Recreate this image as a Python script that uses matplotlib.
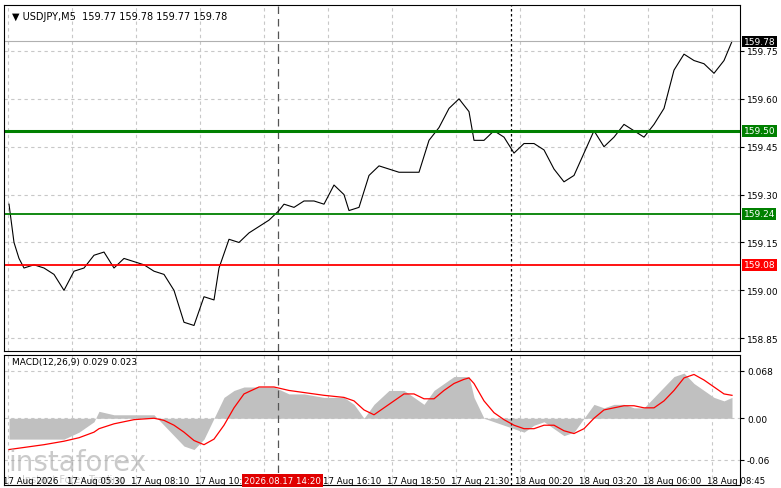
import matplotlib
matplotlib.use("Agg")
import matplotlib.pyplot as plt
import numpy as np

px = [5,10,15,20,30,40,50,60,70,80,90,100,110,120,130,140,150,160,170,180,190,200,210,215,225,235,245,255,265,275,280,290,300,310,320,330,340,345,355,365,375,385,395,405,415,425,435,445,455,465,470,480,490,500,510,520,530,540,550,560,570,580,590,600,610,620,630,640,650,660,670,680,690,700,710,720,728]
price = [159.27,159.15,159.10,159.07,159.08,159.07,159.05,159.00,159.06,159.07,159.11,159.12,159.07,159.10,159.09,159.08,159.06,159.05,159.00,158.90,158.89,158.98,158.97,159.07,159.16,159.15,159.18,159.20,159.22,159.25,159.27,159.26,159.28,159.28,159.27,159.33,159.30,159.25,159.26,159.36,159.39,159.38,159.37,159.37,159.37,159.47,159.51,159.57,159.60,159.56,159.47,159.47,159.50,159.48,159.43,159.46,159.46,159.44,159.38,159.34,159.36,159.43,159.50,159.45,159.48,159.52,159.50,159.48,159.52,159.57,159.69,159.74,159.72,159.71,159.68,159.72,159.78]

mx = [5,20,40,60,75,90,95,110,130,150,160,170,180,190,200,210,220,230,240,255,270,285,300,320,340,350,360,370,385,400,410,420,430,440,450,460,465,470,480,490,500,510,520,530,540,550,560,570,580,590,600,610,620,630,640,650,660,670,680,690,700,710,720,728]
hist = [-0.03,-0.03,-0.03,-0.03,-0.02,-0.005,0.01,0.005,0.005,0.005,-0.01,-0.025,-0.04,-0.045,-0.03,0.0,0.03,0.04,0.045,0.045,0.045,0.035,0.035,0.03,0.03,0.02,0.0,0.02,0.04,0.04,0.03,0.02,0.04,0.05,0.06,0.06,0.06,0.03,0.0,-0.005,-0.01,-0.015,-0.02,-0.01,-0.005,-0.015,-0.025,-0.02,0.0,0.02,0.015,0.02,0.02,0.015,0.015,0.03,0.045,0.06,0.065,0.05,0.04,0.03,0.025,0.03]
signal = [-0.045,-0.042,-0.038,-0.033,-0.028,-0.02,-0.015,-0.008,-0.002,0.0,-0.003,-0.01,-0.02,-0.032,-0.038,-0.03,-0.01,0.015,0.035,0.045,0.045,0.04,0.037,0.033,0.03,0.025,0.012,0.005,0.02,0.035,0.035,0.028,0.028,0.04,0.05,0.056,0.058,0.05,0.025,0.008,-0.002,-0.01,-0.015,-0.015,-0.01,-0.01,-0.018,-0.022,-0.015,0.0,0.012,0.015,0.018,0.018,0.015,0.015,0.025,0.04,0.058,0.063,0.055,0.045,0.035,0.033]

price_ticks = [158.85,159.00,159.15,159.30,159.45,159.60,159.75]
macd_ticks = [0.068,0.0,-0.06]
time_labels = ["17 Aug 2026","17 Aug 05:30","17 Aug 08:10","17 Aug 10:50","17 Aug 13:30","17 Aug 16:10","17 Aug 18:50","17 Aug 21:30","18 Aug 00:20","18 Aug 03:20","18 Aug 06:00","18 Aug 08:45"]
levels = [(159.50,"#008000",2.2,"159.50"),(159.24,"#008000",1.3,"159.24"),(159.08,"#ff0000",1.3,"159.08")]

W,H = 781,489
fig = plt.figure(figsize=(W/100,H/100),dpi=100)
ax = fig.add_axes([4/W,1-352/H,736/W,346/H])
ax2 = fig.add_axes([4/W,1-486/H,736/W,130/H])
grid_x = [4+64*i for i in range(12)]
for a in (ax,ax2):
    a.set_xlim(0,736)
    for s in a.spines.values(): s.set_color("black"); s.set_linewidth(0.8)
    a.set_xticks([])
    for g in grid_x: a.axvline(g,color="#c8c8c8",ls=(0,(3,3)),lw=0.8,zorder=0)
    a.axvline(274,color="#555",ls=(0,(6,4)),lw=0.9)
    a.axvline(507,color="black",ls=(0,(2,2)),lw=0.9)
    a.yaxis.tick_right(); a.tick_params(axis="y",labelsize=6.5,length=3,pad=2)

ax.set_ylim(158.81,159.894)
ax.set_yticks(price_ticks); ax.set_yticklabels([f"{t:.2f}" for t in price_ticks])
for t in price_ticks: ax.axhline(t,color="#c8c8c8",ls=(0,(3,3)),lw=0.8,zorder=0)
ax.plot(px,price,color="black",lw=0.8)
ax.axhline(159.78,color="#b0b0b0",lw=0.8)
for v,c,lw,lab in levels:
    ax.axhline(v,color=c,lw=lw)
    ax.text(1.005,v,lab,transform=ax.get_yaxis_transform(),color="white",fontsize=6.5,va="center",ha="left",
            bbox=dict(boxstyle="square,pad=0.15",fc=c,ec="none"),clip_on=False)
ax.text(1.005,159.78,"159.78",transform=ax.get_yaxis_transform(),color="white",fontsize=6.5,va="center",ha="left",
        bbox=dict(boxstyle="square,pad=0.15",fc="black",ec="none"),clip_on=False)
ax.text(8,159.86,"\u25BC USDJPY,M5  159.77 159.78 159.77 159.78",fontsize=7,va="center")

ax2.set_ylim(-0.096,0.091)
ax2.set_yticks(macd_ticks); ax2.set_yticklabels(["0.068","0.00","-0.06"])
for t in macd_ticks: ax2.axhline(t,color="#c8c8c8",ls=(0,(3,3)),lw=0.8,zorder=0)
ax2.fill_between(mx,0,hist,color="#c0c0c0",lw=0)
ax2.plot(mx,signal,color="red",lw=0.9)
ax2.text(8,0.082,"MACD(12,26,9) 0.029 0.023",fontsize=6.5,va="center")
fig.text(8/W,1-463/H,"instaforex",fontsize=20,color="#a8a8a8",alpha=0.6,va="center")
fig.text(22/W,1-480/H,"Instant Forex Trading",fontsize=7,color="#a8a8a8",alpha=0.6,va="center")
for i,l in enumerate(time_labels):
    if i==4: continue
    fig.text((grid_x[i]-1)/W,1-477/H,l,fontsize=6.2,va="top",ha="left")
fig.text(244/W,1-477/H,"2026.08.17 14:20",fontsize=6.2,va="top",ha="left",color="white",
         bbox=dict(boxstyle="square,pad=0.2",fc="#e00000",ec="none"))
fig.savefig("out.png",dpi=100)
